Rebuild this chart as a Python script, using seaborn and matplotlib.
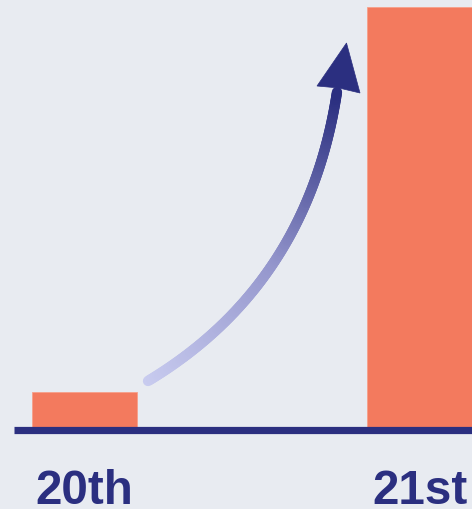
import matplotlib
matplotlib.use("Agg")
import matplotlib.pyplot as plt
import numpy as np
import pandas as pd
import seaborn as sns
from matplotlib.collections import LineCollection
from matplotlib.colors import LinearSegmentedColormap
from matplotlib.patches import Polygon

# data
centuries = ["20th", "21st"]
growth = [1, 12]

bg = "#E8EBF1"
bar_color = "#F37A5E"
navy = "#2B2F80"

sns.set_theme(style="white")
plt.rcParams["font.family"] = ["Liberation Sans", "DejaVu Sans"]

df = pd.DataFrame({"century": centuries, "value": growth})

fig = plt.figure(figsize=(4.72, 5.09), dpi=100, facecolor=bg)
ax = fig.add_axes([0, 0, 1, 1])
ax.set_facecolor(bg)

sns.barplot(data=df, x="century", y="value", color=bar_color,
            width=0.313, saturation=1, edgecolor="#F7A08A", linewidth=0.6,
            ax=ax)

ax.set_xlim(-0.2522, 1.1567)
ax.set_ylim(-2.343, 12.2)
ax.axis("off")

# baseline
ax.axhline(-0.1, xmin=14 / 472, xmax=1, color=navy, lw=5.2, zorder=3,
           solid_capstyle="butt")

# category labels under the bars
for i, lab in enumerate(centuries):
    ax.text(i, -2.2, lab, ha="center", va="baseline", fontsize=34.3,
            fontweight="bold", color=navy)

# curved gradient arrow (figure pixel space)
def px(x, y):
    return x / 472, 1 - y / 509

p0 = np.array([148, 381])
p1 = np.array([307.5, 285])
p2 = np.array([337, 92])
u = np.linspace(0, 1, 200)[:, None]
pts = (1 - u) ** 2 * p0 + 2 * (1 - u) * u * p1 + u ** 2 * p2
pts_f = np.column_stack(px(pts[:, 0], pts[:, 1]))
segs = np.stack([pts_f[:-1], pts_f[1:]], axis=1)
cmap = LinearSegmentedColormap.from_list("arr", ["#C8CBEF", "#9496CC", navy])
lc = LineCollection(segs, cmap=cmap, linewidths=7.4, capstyle="round",
                    transform=fig.transFigure, zorder=4)
lc.set_array(np.linspace(0, 1, len(segs)))
fig.add_artist(lc)

head = [px(346.5, 43), px(317, 86), px(339, 88), px(360, 93)]
fig.add_artist(Polygon(head, closed=True, facecolor=navy, edgecolor=navy,
                       lw=0.5, transform=fig.transFigure, zorder=5))

fig.savefig("out.png", dpi=100, facecolor=bg)
